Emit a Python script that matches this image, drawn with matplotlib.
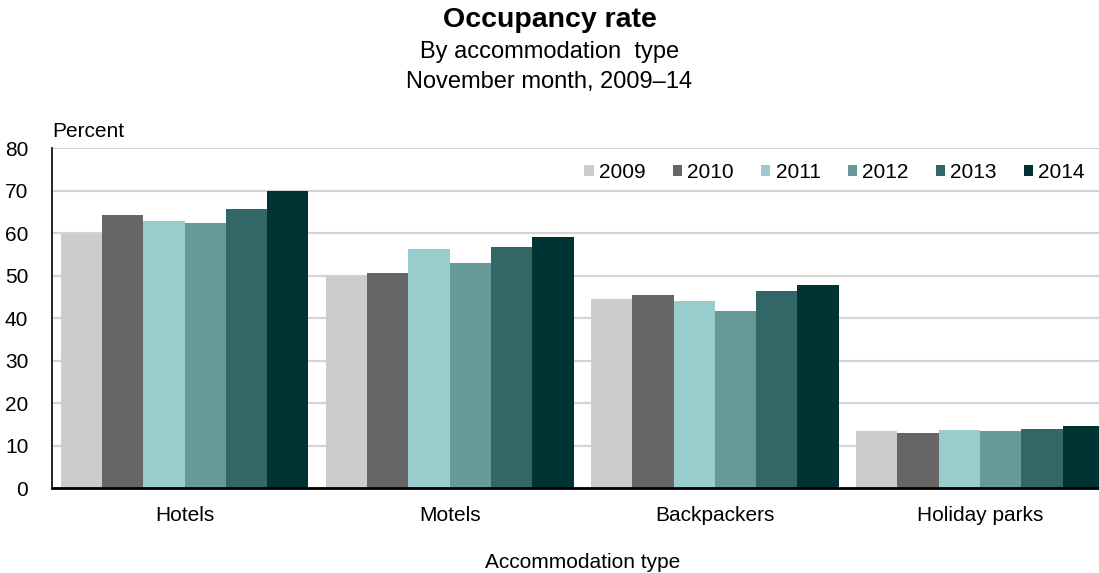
import numpy as np
import matplotlib.pyplot as plt

plt.rcParams['font.family'] = ['Liberation Sans', 'DejaVu Sans']

# Data
categories = ["Hotels", "Motels", "Backpackers", "Holiday parks"]
years = ["2009", "2010", "2011", "2012", "2013", "2014"]
rate_2009 = [59.8, 50.0, 44.4, 13.3]
rate_2010 = [64.3, 50.5, 45.3, 12.9]
rate_2011 = [62.8, 56.2, 43.9, 13.7]
rate_2012 = [62.3, 52.9, 41.6, 13.3]
rate_2013 = [65.7, 56.6, 46.3, 13.8]
rate_2014 = [69.9, 59.0, 47.7, 14.7]
series = [rate_2009, rate_2010, rate_2011, rate_2012, rate_2013, rate_2014]
colors = ["#CCCCCC", "#666666", "#99CCCC", "#669999", "#336666", "#003333"]

fig = plt.figure(figsize=(10.99, 5.73), dpi=100)
ax = fig.add_axes([0.0473, 0.1483, 0.965, 0.5934])

x = np.arange(len(categories))
bw = 0.935 / len(years)
for i, (yr, vals) in enumerate(zip(years, series)):
    ax.bar(x - 0.4675 + bw * (i + 0.5), vals, width=bw, color=colors[i],
           label=yr, zorder=2)

ax.set_xlim(-0.5, 3.5)
ax.set_ylim(0, 80)
ax.set_yticks(range(0, 81, 10))
ax.yaxis.grid(True, color="#D4D4D4", linewidth=1.6, zorder=0)
ax.set_axisbelow(True)
ax.set_xticks(x)
ax.set_xticklabels(categories)
ax.tick_params(axis="both", length=0, labelsize=15, colors="#000000")
ax.tick_params(axis="x", pad=13)
ax.tick_params(axis="y", pad=17)
for s in ["top", "right"]:
    ax.spines[s].set_visible(False)
ax.spines["left"].set_linewidth(1.2)
ax.spines["bottom"].set_linewidth(2)

ax.set_xlabel("Accommodation type", fontsize=15, labelpad=20)
ax.text(0.0, 1.02, "Percent", transform=ax.transAxes, fontsize=15, ha="left", va="bottom")

fig.text(0.5, 0.965, "Occupancy rate", ha="center", va="center", fontsize=20.5, weight="bold")
fig.text(0.5, 0.909, "By accommodation  type", ha="center", va="center", fontsize=17)
fig.text(0.5, 0.857, "November month, 2009\u201314", ha="center", va="center", fontsize=17)

leg = ax.legend(loc="center right", ncol=6, frameon=False, fontsize=15,
                bbox_to_anchor=(0.974, 0.929), borderaxespad=0, borderpad=0,
                handlelength=0.45, handleheight=0.45,
                handletextpad=0.25, columnspacing=1.3)

fig.savefig("out.png", dpi=100)
